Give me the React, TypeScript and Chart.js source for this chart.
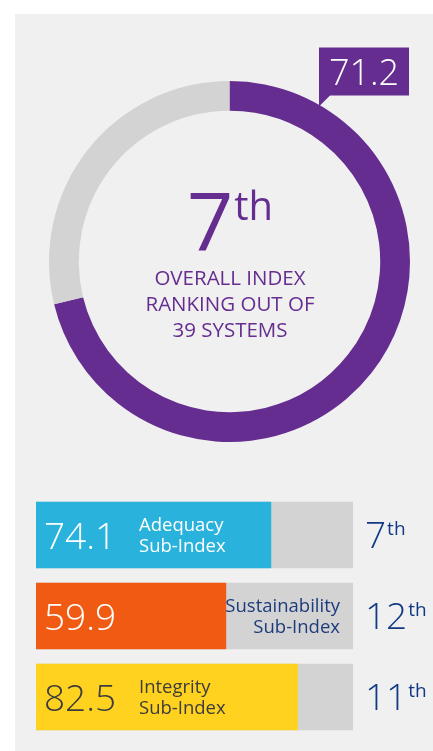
import React, { useEffect, useRef } from "react";
import { Chart, registerables } from "chart.js";

Chart.register(...registerables);

// ---- data ----
const overallValue = 71.2;
const scaleMax = 100;
const overallRank = "7";
const rankSuffix = "th";
const overallCaption = ["OVERALL INDEX", "RANKING OUT OF", "39 SYSTEMS"];

const subIndexCategories = ["Adequacy", "Sustainability", "Integrity"];
const subIndexLabels = [
  ["Adequacy", "Sub-Index"],
  ["Sustainability", "Sub-Index"],
  ["Integrity", "Sub-Index"],
];
const subIndexValues = [74.1, 59.9, 82.5];
const subIndexRanks = ["7", "12", "11"];
const subIndexMax = [100, 100, 100];

// ---- styles ----
const FONT = "'Open Sans', 'Noto Sans', sans-serif";
const PURPLE = "#652d90";
const RING_GRAY = "#d3d3d3";
const PANEL = "#f0f0f0";
const NAVY = "#123a84";
const barColors = ["#29b3dc", "#f15a13", "#ffd220"];
const valueTextColors = ["#ffffff", "#ffffff", "#3c3c3c"];
const labelColors = ["#ffffff", "#1d3c7c", "#3c3c3c"];
const labelAlign: CanvasTextAlign[] = ["left", "right", "left"];

export default function App() {
  const donutRef = useRef<HTMLCanvasElement | null>(null);
  const barRef = useRef<HTMLCanvasElement | null>(null);

  useEffect(() => {
    document.body.style.margin = "0";
    const donutCanvas = donutRef.current!;
    const barCanvas = barRef.current!;

    const donutText = {
      id: "donutText",
      afterDraw(chart: any) {
        const ctx = chart.ctx as CanvasRenderingContext2D;
        const arc = chart.getDatasetMeta(0).data[0] as any;
        const cx = arc.x;
        const cy = arc.y;
        ctx.save();
        // big rank
        ctx.fillStyle = PURPLE;
        ctx.textBaseline = "alphabetic";
        ctx.font = `400 81px ${FONT}`;
        const w7 = ctx.measureText(overallRank).width;
        ctx.font = `400 40px ${FONT}`;
        const wth = ctx.measureText(rankSuffix).width;
        const total = w7 + wth;
        const x0 = cx - total / 2;
        ctx.textAlign = "left";
        ctx.font = `400 81px ${FONT}`;
        ctx.fillText(overallRank, x0, cy - 11);
        ctx.font = `400 40px ${FONT}`;
        ctx.fillText(rankSuffix, x0 + w7 + 1, cy - 42);
        // caption
        ctx.textAlign = "center";
        ctx.font = `400 20.5px ${FONT}`;
        overallCaption.forEach((line, i) => {
          ctx.fillText(line, cx + 0.5, cy + 23 + i * 26);
        });
        // callout
        const bx = cx + 89.5;
        const by = cy - 214;
        const bw = 90;
        const bh = 48;
        ctx.fillStyle = PURPLE;
        ctx.fillRect(bx, by, bw, bh);
        ctx.beginPath();
        ctx.moveTo(bx, by + bh - 1);
        ctx.lineTo(bx + 12, by + bh - 1);
        ctx.lineTo(bx, by + bh + 11);
        ctx.closePath();
        ctx.fill();
        ctx.fillStyle = "#ffffff";
        ctx.font = `300 36px ${FONT}`;
        ctx.textAlign = "center";
        ctx.fillText(overallValue.toFixed(1), bx + bw / 2, by + bh / 2 + 13);
        ctx.restore();
      },
    };

    const donut = new Chart(donutCanvas, {
      type: "doughnut",
      data: {
        labels: ["Score", "Remaining"],
        datasets: [
          {
            data: [overallValue, scaleMax - overallValue],
            backgroundColor: [PURPLE, RING_GRAY],
            borderWidth: 0,
          },
        ],
      },
      options: {
        animation: false,
        responsive: false,
        maintainAspectRatio: false,
        cutout: "83.5%",
        rotation: 0,
        layout: { padding: { left: 49, top: 81, right: 23, bottom: 28 } },
        plugins: { legend: { display: false }, tooltip: { enabled: false } },
        events: [],
      },
      plugins: [donutText],
    });

    const barText = {
      id: "barText",
      afterDraw(chart: any) {
        const ctx = chart.ctx as CanvasRenderingContext2D;
        const fg = chart.getDatasetMeta(0).data;
        const bg = chart.getDatasetMeta(1).data;
        ctx.save();
        ctx.textBaseline = "alphabetic";
        fg.forEach((el: any, i: number) => {
          const start = el.base;
          const end = bg[i].x;
          const cy = el.y;
          // value
          ctx.fillStyle = valueTextColors[i];
          ctx.textAlign = "left";
          ctx.font = `300 37px ${FONT}`;
          ctx.fillText(subIndexValues[i].toFixed(1), start + 8, cy + 13.5);
          // label
          ctx.fillStyle = labelColors[i];
          ctx.font = `400 18.5px ${FONT}`;
          ctx.textAlign = labelAlign[i];
          const lx = labelAlign[i] === "left" ? start + 103 : end - 13;
          subIndexLabels[i].forEach((line, j) => {
            ctx.fillText(line, lx, cy - 4.5 + j * 21);
          });
          // rank
          ctx.fillStyle = NAVY;
          ctx.textAlign = "left";
          ctx.font = `300 37px ${FONT}`;
          const rx = end + 12;
          const rb = cy + 13;
          ctx.fillText(subIndexRanks[i], rx, rb);
          const rw = ctx.measureText(subIndexRanks[i]).width;
          ctx.font = `400 19px ${FONT}`;
          ctx.fillText(rankSuffix, rx + rw + 1, rb - 13);
        });
        ctx.restore();
      },
    };

    const bars = new Chart(barCanvas, {
      type: "bar",
      data: {
        labels: subIndexCategories,
        datasets: [
          {
            data: subIndexValues,
            backgroundColor: barColors,
            borderWidth: 0,
            barThickness: 66,
            grouped: false,
            order: 0,
          },
          {
            data: subIndexMax,
            backgroundColor: RING_GRAY,
            borderWidth: 0,
            barThickness: 66,
            grouped: false,
            order: 1,
          },
        ],
      },
      options: {
        indexAxis: "y",
        animation: false,
        responsive: false,
        maintainAspectRatio: false,
        layout: { padding: { left: 36, right: 80, top: 24.5, bottom: 13.5 } },
        scales: {
          x: { display: false, min: 0, max: scaleMax },
          y: { display: false },
        },
        plugins: { legend: { display: false }, tooltip: { enabled: false } },
        events: [],
      },
      plugins: [barText],
    });

    return () => {
      donut.destroy();
      bars.destroy();
    };
  }, []);

  return (
    <div style={{ position: "absolute", left: 0, top: 0, width: 433, height: 751, overflow: "hidden", background: "#ffffff" }}>
      <div style={{ position: "absolute", left: 15, top: 14, right: 0, bottom: 0, background: PANEL }} />
      <canvas
        ref={donutRef}
        width={433}
        height={470}
        style={{ position: "absolute", left: 0, top: 0, width: 433, height: 470 }}
      />
      <canvas
        ref={barRef}
        width={433}
        height={281}
        style={{ position: "absolute", left: 0, top: 470, width: 433, height: 281 }}
      />
    </div>
  );
}
